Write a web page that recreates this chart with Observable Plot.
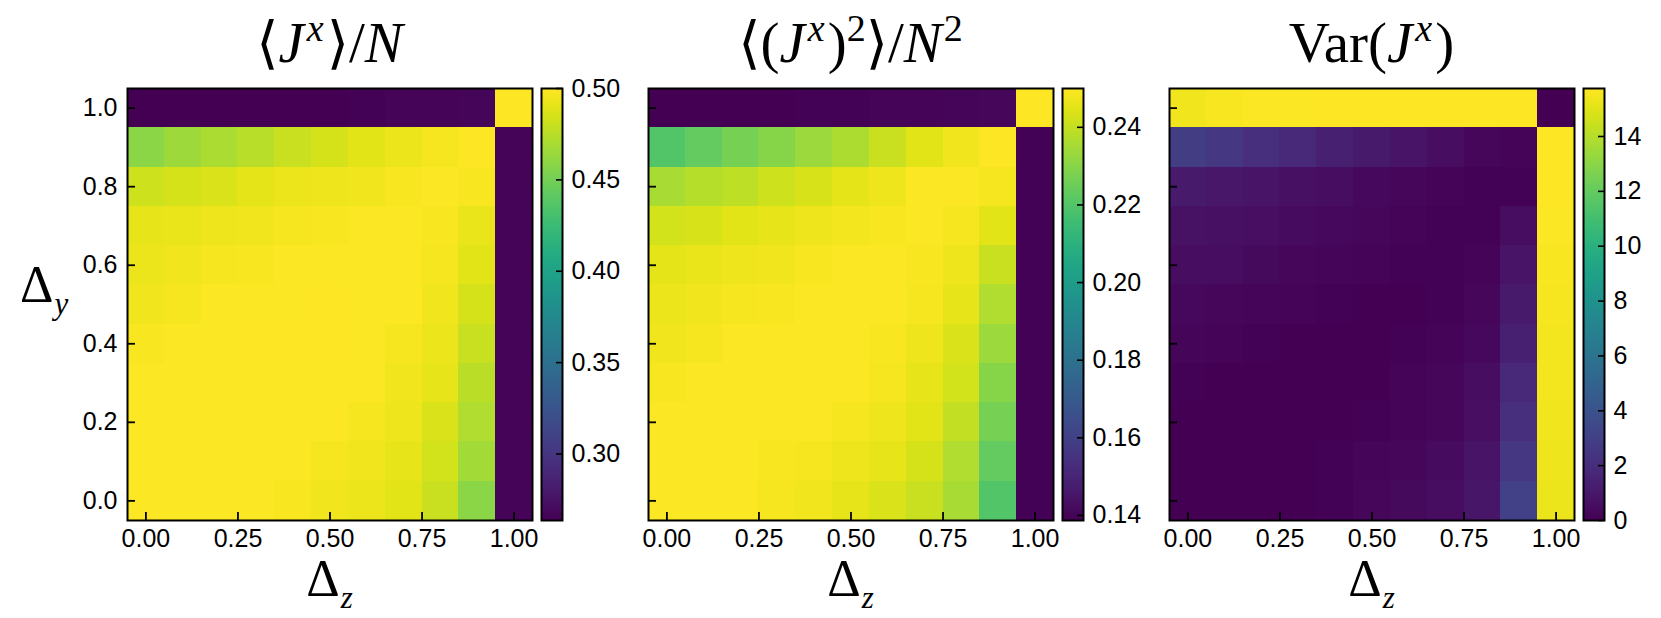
<!DOCTYPE html>
<html>
<head>
<meta charset="utf-8">
<script src="https://cdn.jsdelivr.net/npm/d3@7"></script>
<script src="https://cdn.jsdelivr.net/npm/@observablehq/plot@0.6"></script>
<style>
html, body { margin: 0; padding: 0; background: #ffffff; }
#fig { position: relative; width: 1661px; height: 618px; overflow: hidden; background: #ffffff; }
#fig > svg, #fig > figure { position: absolute; margin: 0; }
</style>
</head>
<body>
<div id="fig"></div>
<script>
// ---------------- data ----------------
// grid coordinates
const deltaZ = [0.0, 0.1, 0.2, 0.3, 0.4, 0.5, 0.6, 0.7, 0.8, 0.9, 1.0];
const deltaY = [0.0, 0.1, 0.2, 0.3, 0.4, 0.5, 0.6, 0.7, 0.8, 0.9, 1.0];

// <J^x>/N : rows are Δy = 0.0 ... 1.0, columns Δz = 0.0 ... 1.0
const meanJx = [
  [0.4988,0.4988,0.4988,0.4988,0.4976,0.4953,0.4929,0.4894,0.4799,0.4585,0.2655],
  [0.4988,0.4988,0.4988,0.4988,0.4983,0.4965,0.4947,0.4910,0.4834,0.4675,0.2655],
  [0.4988,0.4988,0.4988,0.4988,0.4988,0.4983,0.4965,0.4941,0.4870,0.4720,0.2655],
  [0.4983,0.4988,0.4988,0.4988,0.4988,0.4988,0.4983,0.4953,0.4910,0.4755,0.2655],
  [0.4976,0.4983,0.4990,0.4992,0.4994,0.4994,0.4990,0.4972,0.4929,0.4799,0.2655],
  [0.4953,0.4965,0.4983,0.4988,0.4990,0.4992,0.4990,0.4983,0.4953,0.4846,0.2655],
  [0.4929,0.4953,0.4965,0.4976,0.4983,0.4988,0.4988,0.4988,0.4965,0.4894,0.2655],
  [0.4910,0.4917,0.4941,0.4953,0.4965,0.4976,0.4983,0.4988,0.4976,0.4917,0.2655],
  [0.4823,0.4846,0.4870,0.4903,0.4929,0.4941,0.4953,0.4976,0.4988,0.4976,0.2655],
  [0.4590,0.4655,0.4700,0.4745,0.4799,0.4846,0.4894,0.4929,0.4965,0.4995,0.2655],
  [0.2636,0.2636,0.2640,0.2640,0.2645,0.2645,0.2650,0.2655,0.2660,0.2668,0.5000]
];

// <(J^x)^2>/N^2
const meanJx2 = [
  [0.2494,0.2494,0.2494,0.2483,0.2474,0.2458,0.2439,0.2405,0.2355,0.2200,0.1395],
  [0.2494,0.2494,0.2494,0.2489,0.2483,0.2472,0.2458,0.2428,0.2366,0.2233,0.1395],
  [0.2494,0.2494,0.2494,0.2494,0.2492,0.2483,0.2472,0.2450,0.2400,0.2266,0.1395],
  [0.2487,0.2492,0.2494,0.2494,0.2494,0.2494,0.2483,0.2458,0.2422,0.2300,0.1395],
  [0.2478,0.2483,0.2492,0.2492,0.2492,0.2492,0.2489,0.2472,0.2439,0.2333,0.1395],
  [0.2467,0.2476,0.2483,0.2489,0.2492,0.2494,0.2492,0.2483,0.2458,0.2366,0.1395],
  [0.2455,0.2461,0.2472,0.2478,0.2487,0.2492,0.2492,0.2489,0.2472,0.2405,0.1395],
  [0.2422,0.2433,0.2450,0.2458,0.2472,0.2480,0.2489,0.2492,0.2483,0.2450,0.1395],
  [0.2355,0.2378,0.2389,0.2417,0.2433,0.2455,0.2472,0.2492,0.2494,0.2483,0.1395],
  [0.2200,0.2233,0.2266,0.2300,0.2333,0.2361,0.2405,0.2450,0.2478,0.2500,0.1395],
  [0.1387,0.1387,0.1390,0.1390,0.1393,0.1393,0.1396,0.1400,0.1404,0.1408,0.2500]
];

// Var(J^x)
const varJx = [
  [0.05,0.05,0.05,0.05,0.10,0.25,0.40,0.55,0.90,3.00,15.30],
  [0.05,0.05,0.05,0.05,0.10,0.20,0.30,0.45,0.80,2.50,15.35],
  [0.05,0.05,0.05,0.05,0.05,0.10,0.15,0.30,0.60,2.10,15.40],
  [0.10,0.05,0.05,0.05,0.05,0.05,0.15,0.30,0.55,1.80,15.45],
  [0.20,0.15,0.10,0.05,0.05,0.05,0.10,0.15,0.35,1.40,15.50],
  [0.35,0.30,0.20,0.15,0.10,0.05,0.05,0.10,0.25,1.10,15.55],
  [0.55,0.50,0.40,0.30,0.20,0.15,0.10,0.10,0.15,0.85,15.60],
  [0.70,0.65,0.60,0.45,0.35,0.25,0.15,0.10,0.10,0.50,15.65],
  [1.10,0.95,0.85,0.65,0.50,0.35,0.25,0.15,0.08,0.08,15.70],
  [2.80,2.50,2.10,1.80,1.40,1.10,0.80,0.55,0.30,0.15,15.70],
  [15.40,15.60,15.65,15.65,15.70,15.70,15.70,15.70,15.70,15.70,0.00]
];

// colour ranges and tick labels
const colorDomainJx = [0.2636, 0.5000];
const colorDomainJx2 = [0.1387, 0.2500];
const colorDomainVar = [0.0, 15.75];
const cbarTicksJx = [0.30, 0.35, 0.40, 0.45, 0.50];
const cbarTicksJx2 = [0.14, 0.16, 0.18, 0.20, 0.22, 0.24];
const cbarTicksVar = [0, 2, 4, 6, 8, 10, 12, 14];
const xTicks = [0.00, 0.25, 0.50, 0.75, 1.00];
const yTicks = [0.0, 0.2, 0.4, 0.6, 0.8, 1.0];

// ---------------- layout ----------------
const fig = document.getElementById("fig");
const FW = 405, FH = 432, TOP = 88;
const frameLefts = [127, 648, 1169];
const cbarLefts = [541, 1062, 1583];
const CBW = 21;
const tickFont = {fontFamily: "'Liberation Sans', Arial, sans-serif", fontSize: "25px", background: "transparent", color: "black"};

function toTable(M) {
  const out = [];
  deltaY.forEach((y, i) => deltaZ.forEach((z, j) => out.push({z, y, v: M[i][j]})));
  return out;
}

function panel(M, domain, showY, frameLeft) {
  const mL = showY ? 70 : 10, mR = 10, mT = 10, mB = 50;
  const half = 0.05;
  const marks = [
    Plot.rect(toTable(M), {
      x1: d => d.z - half, x2: d => d.z + half,
      y1: d => d.y - half, y2: d => d.y + half,
      fill: "v", shapeRendering: "crispEdges"
    }),
    Plot.tickX(xTicks, {x: d => d, insetTop: FH - 8, stroke: "black", strokeWidth: 1.8}),
    Plot.tickY(yTicks, {y: d => d, insetRight: FW - 8, stroke: "black", strokeWidth: 1.8}),
    Plot.axisX(xTicks, {tickSize: 0, tickPadding: 9, tickFormat: d3.format(".2f"), label: null}),
    Plot.frame({stroke: "black", strokeWidth: 2})
  ];
  if (showY) marks.push(Plot.axisY(yTicks, {tickSize: 0, tickPadding: 10, tickFormat: d3.format(".1f"), label: null}));
  const chart = Plot.plot({
    width: FW + mL + mR, height: FH + mT + mB,
    marginLeft: mL, marginRight: mR, marginTop: mT, marginBottom: mB,
    style: tickFont,
    x: {domain: [-0.05, 1.05]},
    y: {domain: [-0.05, 1.05], axis: showY ? undefined : null},
    color: {type: "linear", scheme: "viridis", domain},
    marks
  });
  chart.style.left = (frameLeft - mL) + "px";
  chart.style.top = (TOP - mT) + "px";
  fig.appendChild(chart);
}

function colorbar(domain, ticks, fmt, left) {
  const mL = 2, mR = 62, mT = 24, mB = 24;
  const gradient = typeof Plot.raster === "function"
    ? Plot.raster({x1: 0, x2: 1, y1: domain[0], y2: domain[1], fill: (x, y) => y, width: 1, height: FH})
    : Plot.rect(d3.ticks(domain[0], domain[1], 300), {x1: 0, x2: 1, y1: d => d, y2: d => d + (domain[1] - domain[0]) / 300, fill: d => d});
  const chart = Plot.plot({
    width: CBW + mL + mR, height: FH + mT + mB,
    marginLeft: mL, marginRight: mR, marginTop: mT, marginBottom: mB,
    style: tickFont,
    x: {domain: [0, 1], axis: null},
    y: {domain},
    color: {type: "linear", scheme: "viridis", domain},
    marks: [
      gradient,
      Plot.tickY(ticks, {y: d => d, insetLeft: CBW - 6, stroke: "black", strokeWidth: 1.6}),
      Plot.axisY(ticks, {anchor: "right", tickSize: 0, tickPadding: 9, tickFormat: fmt, label: null}),
      Plot.frame({stroke: "black", strokeWidth: 2})
    ]
  });
  chart.style.left = (left - mL) + "px";
  chart.style.top = (TOP - mT) + "px";
  fig.appendChild(chart);
}

panel(meanJx, colorDomainJx, true, frameLefts[0]);
panel(meanJx2, colorDomainJx2, false, frameLefts[1]);
panel(varJx, colorDomainVar, false, frameLefts[2]);
colorbar(colorDomainJx, cbarTicksJx, d3.format(".2f"), cbarLefts[0]);
colorbar(colorDomainJx2, cbarTicksJx2, d3.format(".2f"), cbarLefts[1]);
colorbar(colorDomainVar, cbarTicksVar, d3.format("d"), cbarLefts[2]);

// ---------------- titles and axis labels ----------------
const ov = d3.select(fig).append("svg")
  .attr("width", 1661).attr("height", 618)
  .style("left", "0px").style("top", "0px").style("pointer-events", "none")
  .attr("font-family", "'Liberation Serif', 'DejaVu Serif', serif")
  .attr("fill", "black");

const TS = 57;
function addText(x, y, anchor, size, parts, ratio) {
  const t = ov.append("text").attr("x", x).attr("y", y).attr("text-anchor", anchor).attr("font-size", size);
  let shift = 0;
  parts.forEach(p => {
    const s = t.append("tspan").text(p.t);
    const target = p.sup ? -0.36 * size : p.sub ? 0.24 * size : 0;
    if (target !== shift) { s.attr("dy", target - shift); shift = target; }
    if (p.sup || p.sub) s.attr("font-size", Math.round(size * (ratio || 0.66)));
    if (p.i) s.attr("font-style", "italic");
    if (p.dx) s.attr("dx", p.dx);
  });
}
const centers = frameLefts.map(l => l + FW / 2);
addText(centers[0], 62, "middle", TS, [
  {t: "⟨"}, {t: "J", i: true}, {t: "x", i: true, sup: true, dx: 3}, {t: "⟩", dx: 3}, {t: "/"}, {t: "N", i: true}
]);
addText(centers[1], 62, "middle", TS, [
  {t: "⟨("}, {t: "J", i: true}, {t: "x", i: true, sup: true, dx: 3}, {t: ")", dx: 3}, {t: "2", sup: true}, {t: "⟩/"}, {t: "N", i: true}, {t: "2", sup: true, dx: 2}
]);
addText(centers[2], 62, "middle", TS, [
  {t: "Var("}, {t: "J", i: true}, {t: "x", i: true, sup: true, dx: 3}, {t: ")", dx: 3}
]);
const LS = 52;
centers.forEach(c => addText(c, 596, "middle", LS, [{t: "Δ"}, {t: "z", i: true, sub: true, dx: 1}], 0.6));
addText(20, 302, "start", LS, [{t: "Δ"}, {t: "y", i: true, sub: true, dx: 1}], 0.6);
</script>
</body>
</html>
